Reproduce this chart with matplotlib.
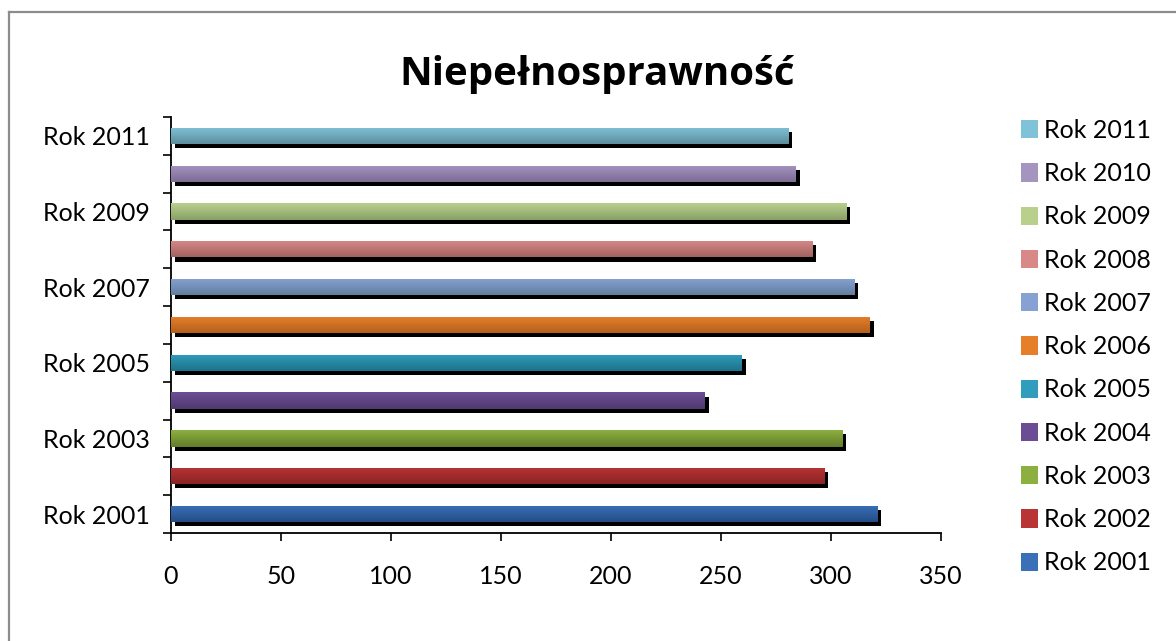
import numpy as np
import matplotlib
matplotlib.use('Agg')
import matplotlib.pyplot as plt
import matplotlib.patheffects as pe
from matplotlib.colors import LinearSegmentedColormap
from matplotlib.patches import Patch
from matplotlib.lines import Line2D

plt.rcParams['font.family'] = ['Lato', 'DejaVu Sans']

# data
years = ['Rok 2001', 'Rok 2002', 'Rok 2003', 'Rok 2004', 'Rok 2005', 'Rok 2006',
         'Rok 2007', 'Rok 2008', 'Rok 2009', 'Rok 2010', 'Rok 2011']
values = [321, 297, 305, 242.5, 259.5, 317.5, 310.5, 291.5, 307, 284, 280.5]
x_ticks = [0, 50, 100, 150, 200, 250, 300, 350]

# top / bottom colours of the gradient fill
top_colors = ['#3a70b8', '#b93434', '#8cb03f', '#6b4d95', '#2f9dbb', '#e67f2a',
              '#86a2d2', '#d88987', '#b9d08d', '#a593c0', '#80c2d7']
bottom_colors = ['#244c86', '#8a2424', '#627c2b', '#503a70', '#1e7189', '#b5601b',
                 '#637e9f', '#a26360', '#88a064', '#7c6d94', '#5c8e9d']


def plot_bars(ax):
    pos = np.arange(len(years))
    bars = ax.barh(pos, values, height=0.43, color=top_colors, linewidth=0, zorder=3)
    for bar, c_top, c_bot in zip(bars, top_colors, bottom_colors):
        bar.set_path_effects([pe.SimplePatchShadow(offset=(2.9, -2.9), shadow_rgbFace='black', alpha=1.0),
                              pe.Normal()])
        x0, y0 = bar.get_x(), bar.get_y()
        w, h = bar.get_width(), bar.get_height()
        cmap = LinearSegmentedColormap.from_list('g', [c_bot, c_top])
        grad = np.linspace(0, 1, 64).reshape(-1, 1)
        im = ax.imshow(grad, cmap=cmap, aspect='auto', origin='lower',
                       extent=(x0, x0 + w, y0, y0 + h), zorder=4, interpolation='bilinear')
        im.set_clip_path(bar)
    return bars


fig = plt.figure(figsize=(11.76, 6.41), dpi=100)
ax = fig.add_axes([0.1454, 0.1685, 0.6548, 0.649])
plot_bars(ax)

ax.set_xlim(0, 350)
ax.set_ylim(-0.5, len(years) - 0.5)
ax.set_xticks(x_ticks)
ax.set_xticklabels([str(t) for t in x_ticks])
ax.tick_params(axis='x', direction='out', length=6, width=1.2, pad=17, labelsize=18)

# labels on every other year, tick marks at category boundaries
ax.set_yticks(np.arange(0, len(years), 2))
ax.set_yticklabels(years[::2])
ax.set_yticks(np.arange(-0.5, len(years), 1), minor=True)
ax.tick_params(axis='y', which='major', length=0, pad=15, labelsize=18)
ax.tick_params(axis='y', which='minor', direction='out', length=6, width=1.2)

for s in ['top', 'right']:
    ax.spines[s].set_visible(False)
for s in ['left', 'bottom']:
    ax.spines[s].set_linewidth(1.3)
    ax.spines[s].set_color('black')
ax.set_aspect('auto')

fig.text(0.508, 0.884, 'Niepełnosprawność', ha='center', va='center',
         fontsize=29, fontweight='bold', family=['Open Sans', 'DejaVu Sans'])

handles = [Patch(facecolor=top_colors[i], edgecolor='none') for i in range(len(years))][::-1]
fig.legend(handles, years[::-1], loc='upper left', bbox_to_anchor=(0.8595, 0.830),
           frameon=False, fontsize=18, handlelength=0.68, handleheight=0.76,
           handletextpad=0.25, labelspacing=0.81, borderaxespad=0)

# chart-area border (only left and top visible in the crop)
fig.add_artist(Line2D([0.0077, 0.0077], [0, 0.981], transform=fig.transFigure, color='#8c8c8c', lw=1.6))
fig.add_artist(Line2D([0.0077, 1.0], [0.981, 0.981], transform=fig.transFigure, color='#8c8c8c', lw=1.6))

fig.savefig('out.png', dpi=100)
